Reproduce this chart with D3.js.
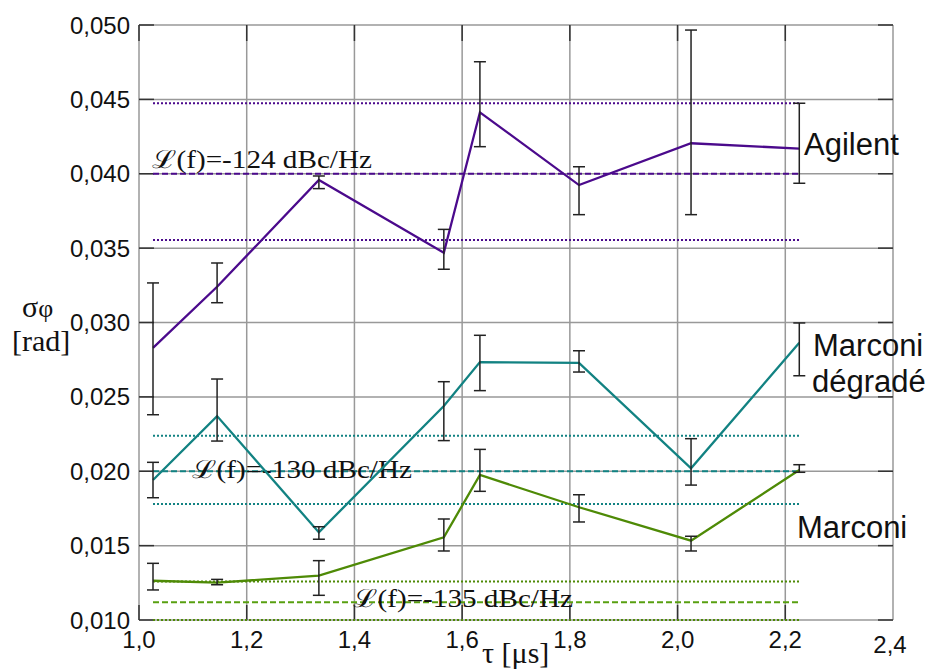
<!DOCTYPE html>
<html><head><meta charset="utf-8">
<script src="https://cdn.jsdelivr.net/npm/d3@7/dist/d3.min.js"></script>
<style>body{margin:0;background:#fff}</style>
</head><body>
<svg id="c" width="925" height="671"></svg>
<script>
const tau = [1.026, 1.145, 1.334, 1.566, 1.633, 1.817, 2.025, 2.226];
const agilent   = [0.02829, 0.0324, 0.03958, 0.03469, 0.04413, 0.03924, 0.04205, 0.04169];
const agilentHi = [0.03266, 0.0340, 0.03985, 0.03626, 0.04753, 0.04047, 0.04966, 0.04474];
const agilentLo = [0.0238, 0.03133, 0.0390, 0.03358, 0.04182, 0.03725, 0.03725, 0.03936];
const degrade   = [0.01941, 0.02371, 0.01589, 0.02439, 0.02734, 0.02728, 0.0202, 0.02864];
const degradeHi = [0.0206, 0.0262, 0.01627, 0.02602, 0.02914, 0.0281, 0.02219, 0.02997];
const degradeLo = [0.01822, 0.02203, 0.01543, 0.02206, 0.02542, 0.02667, 0.01907, 0.02642];
const marconi   = [0.01264, 0.01251, 0.01298, 0.01556, 0.01975, 0.01758, 0.01533, 0.02008];
const marconiHi = [0.01381, 0.01273, 0.01399, 0.01679, 0.02147, 0.01842, 0.01563, 0.02044];
const marconiLo = [0.01202, 0.01237, 0.01166, 0.01464, 0.01865, 0.01659, 0.01464, 0.01993];
// reference levels: [upper dotted, dashed nominal, lower dotted]
const agilentRef = [0.04474, 0.0400, 0.03555];
const degradeRef = [0.02239, 0.0200, 0.0178];
const marconiRef = [0.01258, 0.0112, 0.0100];
const refLabels = ["ℒ(f)=-124 dBc/Hz", "ℒ(f)=-130 dBc/Hz", "ℒ(f)=-135 dBc/Hz"];
const seriesNames = ["Agilent", "Marconi", "dégradé", "Marconi"];
const xTicks = [1.0, 1.2, 1.4, 1.6, 1.8, 2.0, 2.2, 2.4];
const yTicks = [0.010, 0.015, 0.020, 0.025, 0.030, 0.035, 0.040, 0.045, 0.050];

const L = 139, T = 25, W = 754, H = 595;
const svg = d3.select("#c");
const x = d3.scaleLinear().domain([1.0, 2.4]).range([L, L + W]);
const y = d3.scaleLinear().domain([0.010, 0.050]).range([T + H, T]);
const fmtX = d => d3.format(".1f")(d).replace(".", ",");
const fmtY = d => d3.format(".3f")(d).replace(".", ",");

// grid
const g = svg.append("g");
g.selectAll(".vx").data(xTicks).join("line")
  .attr("x1", d => x(d)).attr("x2", d => x(d)).attr("y1", T).attr("y2", T + H)
  .attr("stroke", "#999").attr("stroke-width", 1.5);
g.selectAll(".hy").data(yTicks).join("line")
  .attr("y1", d => y(d)).attr("y2", d => y(d)).attr("x1", L).attr("x2", L + W)
  .attr("stroke", "#999").attr("stroke-width", 1.5);

// ticks (inside)
const tk = svg.append("g").attr("stroke", "#333").attr("stroke-width", 1.5);
xTicks.slice(0, -1).forEach(d => {
  tk.append("line").attr("x1", x(d)).attr("x2", x(d)).attr("y1", T).attr("y2", T + 16);
  tk.append("line").attr("x1", x(d)).attr("x2", x(d)).attr("y1", T + H).attr("y2", T + H - 15);
});
yTicks.forEach(d => {
  tk.append("line").attr("x1", L).attr("x2", L + 15).attr("y1", y(d)).attr("y2", y(d));
  tk.append("line").attr("x1", L + W - 15).attr("x2", L + W).attr("y1", y(d)).attr("y2", y(d));
});

// tick labels
const sans = "Liberation Sans, Arial, sans-serif";
svg.append("g").selectAll("text").data(xTicks).join("text")
  .attr("x", d => x(d) + (d === 2.4 ? -3 : 0)).attr("y", d => d === 2.4 ? 653 : 648)
  .attr("text-anchor", "middle").attr("font-family", sans)
  .attr("font-size", 24).attr("fill", "#111").text(fmtX);
svg.append("g").selectAll("text").data(yTicks).join("text")
  .attr("x", 130).attr("y", d => y(d) + 8.5)
  .attr("text-anchor", "end").attr("font-family", sans)
  .attr("font-size", 24).attr("fill", "#111").text(fmtY);

const series = [
  {v: agilent, hi: agilentHi, lo: agilentLo, ref: agilentRef, c: "#4b0a8c", dc: "#4b0a8c"},
  {v: degrade, hi: degradeHi, lo: degradeLo, ref: degradeRef, c: "#128282", dc: "#128282"},
  {v: marconi, hi: marconiHi, lo: marconiLo, ref: marconiRef, c: "#4e8a06", dc: "#58a010"}
];
const x0 = x(tau[0]), x1 = x(tau[tau.length - 1]);

// reference lines
series.forEach(s => {
  s.ref.forEach((r, i) => {
    svg.append("line").attr("x1", x0).attr("x2", x1).attr("y1", y(r)).attr("y2", y(r))
      .attr("stroke", i === 1 ? s.dc : s.c).attr("stroke-width", 2)
      .attr("stroke-dasharray", i === 1 ? "6,3" : "2,2");
  });
});

// reference labels
const serif = "Liberation Serif, Times New Roman, serif";
const refPos = [[152, 168], [192, 478], [353, 607]];
refLabels.forEach((t, i) => {
  svg.append("text").attr("x", refPos[i][0]).attr("y", refPos[i][1])
    .attr("font-family", serif).attr("font-size", 25)
    .attr("textLength", 220).attr("lengthAdjust", "spacingAndGlyphs")
    .attr("fill", "#111").text(t);
});

// lines
const line = d3.line().x((d, i) => x(tau[i])).y(d => y(d));
series.forEach(s => {
  svg.append("path").datum(s.v).attr("d", line).attr("fill", "none")
    .attr("stroke", s.c).attr("stroke-width", 2.3);
});

// error bars
const eb = svg.append("g").attr("stroke", "#222").attr("stroke-width", 1.5);
series.forEach(s => {
  tau.forEach((t, i) => {
    const cx = x(t);
    eb.append("line").attr("x1", cx).attr("x2", cx).attr("y1", y(s.hi[i])).attr("y2", y(s.lo[i]));
    eb.append("line").attr("x1", cx - 6).attr("x2", cx + 6).attr("y1", y(s.hi[i])).attr("y2", y(s.hi[i]));
    eb.append("line").attr("x1", cx - 6).attr("x2", cx + 6).attr("y1", y(s.lo[i])).attr("y2", y(s.lo[i]));
  });
});

// series labels
const lab = [[seriesNames[0], 804, 155], [seriesNames[1], 813, 356], [seriesNames[2], 812, 392], [seriesNames[3], 797, 538]];
lab.forEach(l => svg.append("text").attr("x", l[1]).attr("y", l[2])
  .attr("font-family", sans).attr("font-size", 31).attr("fill", "#111").text(l[0]));

// axis titles
const yl = svg.append("text").attr("x", 22).attr("y", 317).attr("font-family", serif).attr("fill", "#111");
yl.append("tspan").attr("font-size", 30).text("σ");
yl.append("tspan").attr("font-size", 26).text("φ");
svg.append("text").attr("x", 12).attr("y", 351).attr("font-family", serif).attr("font-size", 30)
  .attr("fill", "#111").text("[rad]");
svg.append("text").attr("x", 482).attr("y", 663).attr("font-family", serif).attr("font-size", 30)
  .attr("fill", "#111").text("τ [μs]");
</script>
</body></html>
